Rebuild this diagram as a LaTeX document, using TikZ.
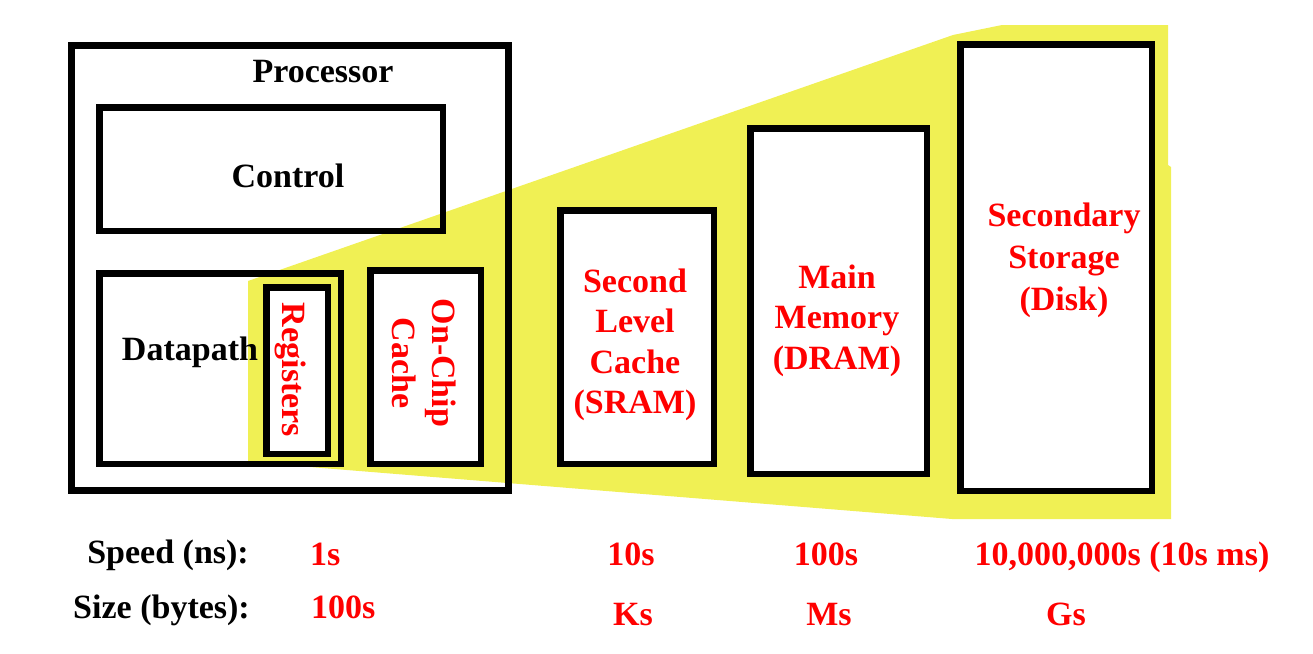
\documentclass[tikz,border=0pt]{standalone}
\usepackage{fontspec}
\setmainfont{Liberation Serif}
\definecolor{hlyellow}{RGB}{240,240,84}
\definecolor{memred}{RGB}{255,0,0}
\tikzset{
  box/.style={draw=black, line width=6.5pt, rectangle, inner sep=0pt, outer sep=0pt},
  wbox/.style={box, fill=white},
  lbl/.style={font=\fontsize{34}{40.5}\selectfont\bfseries, inner sep=0pt, text=black},
  rlbl/.style={lbl, text=memred, align=center},
}
\begin{document}
\begin{tikzpicture}[x=1pt,y=-1pt]
\useasboundingbox (0,0) rectangle (1313,653);
% yellow zoom region
\fill[hlyellow] (248,281) -- (953,35) -- (1002,25) -- (1168,25) -- (1168,165) -- (1171,167)
  -- (1171,519) -- (952,519) -- (248,462) -- cycle;
% processor boxes
\node[box, minimum width=437pt, minimum height=445pt] (proc) at (290,268) {};
\node[box, minimum width=343.5pt, minimum height=123.5pt] (ctrl) at (271,169) {};
\node[box, minimum width=241.5pt, minimum height=190.5pt] (dp) at (220,368.5) {};
\node[wbox, minimum width=61.5pt, minimum height=166.5pt] (reg) at (297,370.5) {};
\node[wbox, minimum width=110.5pt, minimum height=193.5pt] (l1) at (425.5,367) {};
% memory boxes
\node[wbox, minimum width=153.5pt, minimum height=253.5pt] (l2) at (637,337) {};
\node[wbox, minimum width=176.5pt, minimum height=345.5pt] (mm) at (838.5,301) {};
\node[wbox, minimum width=191.5pt, minimum height=446.5pt] (disk) at (1056,267.5) {};
% labels
\node[lbl, anchor=base] (tproc) at (323,82) {Processor};
\node[lbl, anchor=base] (tctrl) at (288,187) {Control};
\node[lbl, anchor=base] (tdp) at (190,360) {Datapath};
\node[lbl, text=memred, anchor=base, rotate=-90] (treg) at (282,370) {Registers};
\node[rlbl, rotate=-90] (tl1) at (424,363) {On-Chip\\Cache};
\node[rlbl] (tl2) at (635,345) {Second\\Level\\Cache\\(SRAM)};
\node[rlbl] (tmm) at (837,320.5) {Main\\Memory\\(DRAM)};
\node[rlbl, font=\fontsize{34}{42}\selectfont\bfseries] (tdisk) at (1064,260) {Secondary\\Storage\\(Disk)};
% bottom rows
\node[lbl, anchor=base east] (speed) at (249,563) {Speed (ns):};
\node[lbl, anchor=base east] (size) at (250,618) {Size (bytes):};
\node[lbl, text=memred, anchor=base west] (sp1) at (310,565) {1s};
\node[lbl, text=memred, anchor=base west] (sz1) at (311,618) {100s};
\node[lbl, text=memred, anchor=base] (sp2) at (631,565) {10s};
\node[lbl, text=memred, anchor=base] (sz2) at (633,625) {Ks};
\node[lbl, text=memred, anchor=base] (sp3) at (826,565) {100s};
\node[lbl, text=memred, anchor=base] (sz3) at (829,625) {Ms};
\node[lbl, text=memred, anchor=base] (sp4) at (1122,565) {10,000,000s (10s ms)};
\node[lbl, text=memred, anchor=base] (sz4) at (1066,625) {Gs};
\end{tikzpicture}
\end{document}
